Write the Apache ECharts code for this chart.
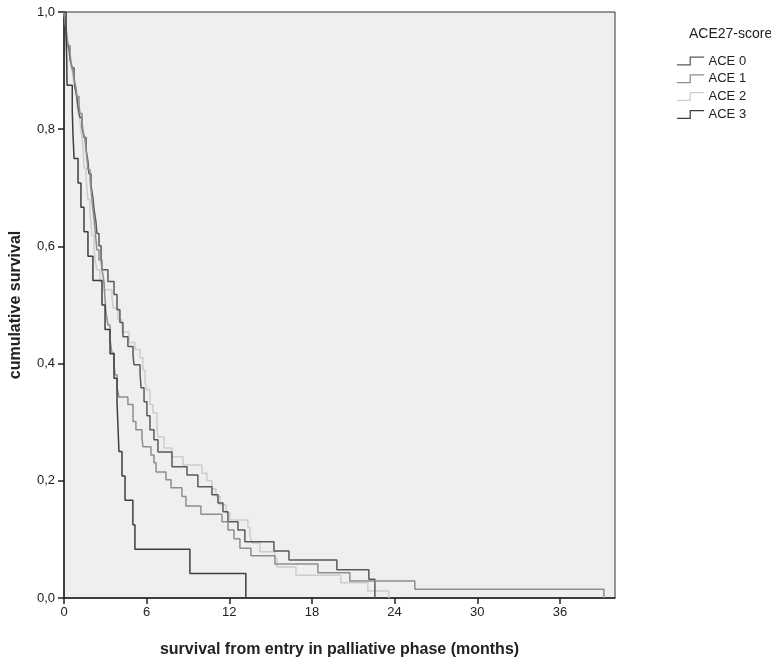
<!DOCTYPE html>
<html>
<head>
<meta charset="utf-8">
<script src="https://cdn.jsdelivr.net/npm/echarts@6/dist/echarts.min.js"></script>
<style>
  html, body { margin: 0; padding: 0; background: #ffffff; }
  #chart { width: 771px; height: 664px; }
</style>
</head>
<body>
<div id="chart"></div>
<script>
// Kaplan-Meier survival by ACE27 comorbidity score: [months, cumulative survival]
const groupNames = ['ACE 0', 'ACE 1', 'ACE 2', 'ACE 3'];
const xTicks = [0, 6, 12, 18, 24, 30, 36];

const ace0 = [
  [0, 1], [0.07, 0.984], [0.15, 0.966], [0.22, 0.951], [0.36, 0.936], [0.44, 0.919],
  [0.58, 0.905], [0.73, 0.888], [0.80, 0.871], [0.94, 0.854], [1.02, 0.837],
  [1.16, 0.820], [1.31, 0.803], [1.45, 0.786], [1.60, 0.765], [1.74, 0.745],
  [1.81, 0.724], [1.96, 0.704], [2.10, 0.683], [2.18, 0.663], [2.32, 0.642],
  [2.39, 0.622], [2.54, 0.601], [2.69, 0.581], [2.76, 0.560], [3.19, 0.540],
  [3.63, 0.518], [3.85, 0.492], [4.06, 0.470], [4.28, 0.446], [4.64, 0.429],
  [5.01, 0.415], [5.08, 0.398], [5.52, 0.384], [5.59, 0.359], [5.81, 0.335],
  [6.02, 0.311], [6.24, 0.287], [6.53, 0.270], [6.82, 0.249], [7.84, 0.224],
  [8.93, 0.210], [9.72, 0.190], [10.74, 0.176], [11.18, 0.162], [11.54, 0.147],
  [11.90, 0.130], [12.63, 0.116], [13.13, 0.096], [15.24, 0.080], [16.33, 0.065],
  [19.81, 0.048], [22.13, 0.032], [22.57, 0]
];

const ace1 = [
  [0, 1], [0.07, 0.987], [0.15, 0.972], [0.22, 0.958], [0.29, 0.943], [0.44, 0.929],
  [0.51, 0.914], [0.65, 0.900], [0.73, 0.885], [0.87, 0.871], [0.94, 0.856],
  [1.09, 0.842], [1.16, 0.827], [1.31, 0.813], [1.38, 0.798], [1.52, 0.782],
  [1.60, 0.765], [1.67, 0.748], [1.74, 0.731], [1.89, 0.714], [1.96, 0.697],
  [2.03, 0.680], [2.10, 0.663], [2.18, 0.646], [2.25, 0.629], [2.32, 0.611],
  [2.39, 0.594], [2.54, 0.577], [2.76, 0.560], [2.90, 0.540], [2.98, 0.509],
  [3.05, 0.487], [3.19, 0.466], [3.34, 0.441], [3.48, 0.418], [3.63, 0.401],
  [3.70, 0.381], [3.85, 0.359], [3.99, 0.343], [4.64, 0.330], [5.01, 0.301],
  [5.22, 0.287], [5.66, 0.273], [5.73, 0.258], [6.31, 0.244], [6.53, 0.231],
  [6.68, 0.215], [7.40, 0.202], [7.77, 0.188], [8.56, 0.173], [8.85, 0.157],
  [9.94, 0.143], [11.47, 0.130], [11.90, 0.116], [12.34, 0.101], [12.77, 0.085],
  [13.57, 0.072], [15.31, 0.058], [18.43, 0.043], [20.75, 0.029], [25.47, 0.015],
  [39.19, 0]
];

const ace2 = [
  [0, 1], [0.07, 0.985], [0.15, 0.970], [0.22, 0.953], [0.29, 0.938], [0.44, 0.922],
  [0.51, 0.907], [0.65, 0.892], [0.73, 0.876], [0.87, 0.861], [0.94, 0.845],
  [1.02, 0.830], [1.16, 0.815], [1.23, 0.799], [1.31, 0.784], [1.38, 0.769],
  [1.45, 0.734], [1.60, 0.717], [1.67, 0.697], [1.74, 0.680], [1.89, 0.659],
  [1.96, 0.639], [2.03, 0.618], [2.18, 0.598], [2.25, 0.577], [2.39, 0.560],
  [2.61, 0.540], [2.90, 0.526], [3.48, 0.514], [3.56, 0.495], [3.92, 0.475],
  [4.21, 0.454], [4.72, 0.436], [5.15, 0.424], [5.52, 0.410], [5.73, 0.389],
  [5.88, 0.369], [6.02, 0.355], [6.24, 0.330], [6.46, 0.316], [6.75, 0.290],
  [6.82, 0.275], [7.26, 0.256], [7.84, 0.241], [8.64, 0.227], [10.01, 0.213],
  [10.38, 0.200], [10.74, 0.186], [11.03, 0.173], [11.32, 0.159], [11.76, 0.145],
  [12.05, 0.133], [13.35, 0.120], [13.50, 0.108], [13.64, 0.094], [14.22, 0.079],
  [15.31, 0.068], [15.46, 0.053], [16.84, 0.039], [20.10, 0.026], [22.06, 0.012],
  [23.58, 0]
];

const ace3 = [
  [0, 1], [0.15, 0.958], [0.20, 0.917], [0.22, 0.875], [0.60, 0.833], [0.65, 0.792],
  [0.73, 0.750], [1.02, 0.708], [1.23, 0.667], [1.45, 0.625], [1.74, 0.583],
  [2.10, 0.542], [2.76, 0.500], [2.98, 0.458], [3.34, 0.417], [3.63, 0.375],
  [3.85, 0.333], [3.92, 0.292], [3.99, 0.250], [4.21, 0.208], [4.43, 0.167],
  [5.00, 0.125], [5.15, 0.083], [9.14, 0.042], [13.20, 0]
];

const groupData = [ace0, ace1, ace2, ace3];
const groupColors = ['#5a5a5a', '#8e8e8e', '#cdcdcd', '#3e3e3e'];

// legend marker: a small step, low on the left and raised on the right
const stepIcon = 'path://M0,8 L13,8 L13,0 L28,0 L28,1.3 L14.3,1.3 L14.3,9.3 L0,9.3 Z';
const font = 'Liberation Sans, Arial, sans-serif';

const chart = echarts.init(document.getElementById('chart'), null, { renderer: 'canvas' });

chart.setOption({
  backgroundColor: '#ffffff',
  animation: false,
  title: {
    text: 'ACE27-score',
    left: 689,
    top: 27.5,
    padding: 0,
    textStyle: { fontFamily: font, fontSize: 14, fontWeight: 'normal', color: '#222' }
  },
  legend: {
    orient: 'vertical',
    left: 677,
    top: 54.5,
    padding: 0,
    itemWidth: 28,
    itemHeight: 9,
    itemGap: 4.8,
    icon: stepIcon,
    data: groupNames,
    textStyle: { fontFamily: font, fontSize: 13, color: '#222', padding: [0, 0, 0, -1] }
  },
  grid: {
    left: 64, top: 12, right: 156, bottom: 66,
    show: true,
    backgroundColor: '#efefef',
    borderColor: '#333',
    borderWidth: 1
  },
  xAxis: {
    type: 'value',
    min: 0,
    max: 40,
    name: 'survival from entry in palliative phase (months)',
    nameLocation: 'middle',
    nameGap: 44,
    nameTextStyle: { fontFamily: font, fontSize: 16, fontWeight: 'bold', color: '#222' },
    axisLine: { show: true, lineStyle: { color: '#222', width: 1.5 } },
    axisTick: { show: true, length: 6, customValues: xTicks, lineStyle: { color: '#222', width: 1.5 } },
    axisLabel: { customValues: xTicks, fontFamily: font, fontSize: 13, color: '#222', margin: 8 },
    splitLine: { show: false }
  },
  yAxis: {
    type: 'value',
    min: 0,
    max: 1,
    interval: 0.2,
    name: 'cumulative survival',
    nameLocation: 'middle',
    nameGap: 40,
    nameTextStyle: { fontFamily: font, fontSize: 16, fontWeight: 'bold', color: '#222' },
    axisLine: { show: true, lineStyle: { color: '#222', width: 1.5 } },
    axisTick: { show: true, length: 6, lineStyle: { color: '#222', width: 1.5 } },
    axisLabel: {
      fontFamily: font, fontSize: 13, color: '#222', margin: 9,
      formatter: v => v.toFixed(1).replace('.', ',')
    },
    splitLine: { show: false }
  },
  series: groupNames.map((name, i) => ({
    name: name,
    type: 'line',
    step: 'end',
    data: groupData[i],
    symbol: 'none',
    color: groupColors[i],
    lineStyle: { color: groupColors[i], width: 1.5 },
    itemStyle: { color: groupColors[i] },
    z: 3 - (i === 2 ? 1 : 0)
  }))
});
</script>
</body>
</html>
